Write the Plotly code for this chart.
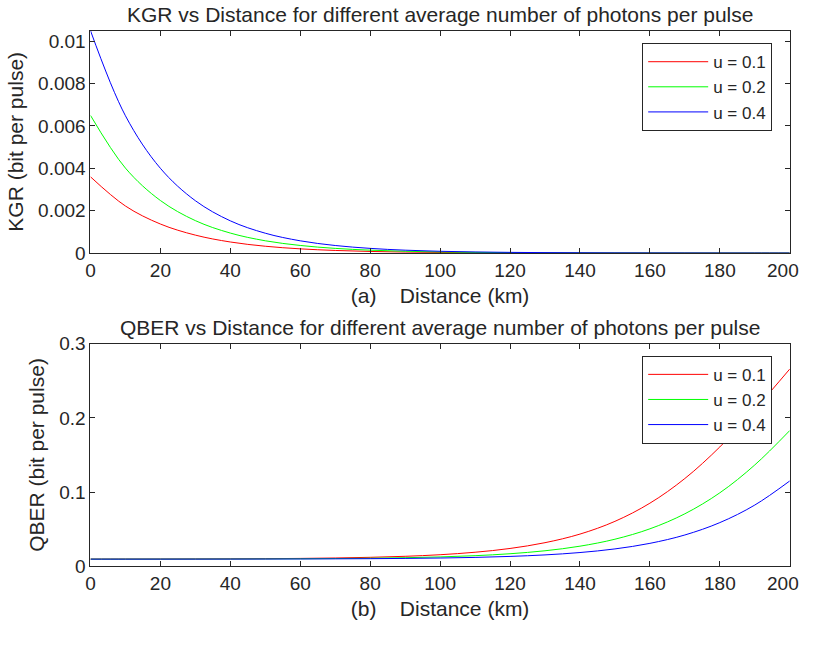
import plotly.graph_objects as go

# ---------------- data ----------------
distance_km = [0, 10, 20, 30, 40, 50, 60, 70, 80, 90, 100,
               110, 120, 130, 140, 150, 160, 170, 180, 190, 200]

kgr_u01 = [0.0036, 0.00222, 0.00137, 0.000846, 0.000522, 0.000321, 0.000198,
           0.000122, 0.0000752, 0.0000464, 0.0000286, 0.0000176, 0.0000109,
           0.0000067, 0.0000041, 0.0000025, 0.0000016, 0.00000097, 0.0000006,
           0.00000037, 0.00000023]
kgr_u02 = [0.0065, 0.00401, 0.00248, 0.00153, 0.000943, 0.000579, 0.000358,
           0.00022, 0.000136, 0.0000839, 0.0000516, 0.0000319, 0.0000196,
           0.0000121, 0.0000075, 0.0000046, 0.0000028, 0.0000017, 0.0000011,
           0.00000066, 0.00000041]
kgr_u04 = [0.0105, 0.00648, 0.0040, 0.00247, 0.00152, 0.000936, 0.000577,
           0.000356, 0.00022, 0.000135, 0.0000834, 0.0000514, 0.0000317,
           0.0000196, 0.0000121, 0.0000074, 0.0000046, 0.0000028, 0.0000017,
           0.0000011, 0.00000066]

qber_u01 = [0.00957, 0.00961, 0.00967, 0.00977, 0.00991, 0.01014, 0.0105,
            0.01106, 0.01195, 0.01332, 0.01546, 0.0188, 0.0239, 0.0317, 0.0433,
            0.0605, 0.0850, 0.1183, 0.1609, 0.2114, 0.2660]
qber_u02 = [0.00953, 0.00955, 0.00958, 0.00963, 0.00971, 0.00982, 0.0100,
            0.0103, 0.01072, 0.01142, 0.0125, 0.01418, 0.0168, 0.0208, 0.0270,
            0.0364, 0.0504, 0.0707, 0.0990, 0.1366, 0.1830]
qber_u04 = [0.00951, 0.00952, 0.00954, 0.00956, 0.0096, 0.00966, 0.00975,
            0.00991, 0.01013, 0.01048, 0.01101, 0.01185, 0.01318, 0.01523, 0.0184,
            0.0233, 0.0308, 0.0421, 0.0588, 0.0825, 0.1150]

series_names = ["u = 0.1", "u = 0.2", "u = 0.4"]
series_colors = ["#ff0000", "#00ff00", "#0000ff"]

x_ticks = [0, 20, 40, 60, 80, 100, 120, 140, 160, 180, 200]
x_ticktext = ["0", "20", "40", "60", "80", "100", "120", "140", "160", "180", "200"]
kgr_ticks = [0, 0.002, 0.004, 0.006, 0.008, 0.01]
kgr_ticktext = ["0", "0.002", "0.004", "0.006", "0.008", "0.01"]
qber_ticks = [0, 0.1, 0.2, 0.3]
qber_ticktext = ["0", "0.1", "0.2", "0.3"]

title_top = "KGR vs Distance for different average number of photons per pulse"
title_bottom = "QBER vs Distance for different average number of photons per pulse"
xlabel_top = "(a)\u00a0\u00a0\u00a0\u00a0Distance (km)"
xlabel_bottom = "(b)\u00a0\u00a0\u00a0\u00a0Distance (km)"
ylabel_top = "KGR (bit per pulse)"
ylabel_bottom = "QBER (bit per pulse)"

# ---------------- figure ----------------
# The page body keeps an 8px margin; anything drawn past the window minus
# that margin makes the whole page get scaled down. So the figure is 16px
# smaller and every reference pixel position is shifted by the 8px margin.
OFF = 8
W, H = 817 - 2 * OFF, 648 - 2 * OFF
FONT = "Liberation Sans, Arial, Helvetica, sans-serif"
AX = "#262626"


def px_x(px):
    return (px - OFF) / W


def px_y(py):
    return 1 - (py - OFF) / H


fig = go.Figure()
for name, color, ys in zip(series_names, series_colors, [kgr_u01, kgr_u02, kgr_u04]):
    fig.add_trace(go.Scatter(x=distance_km, y=ys, mode="lines", name=name,
                             line=dict(color=color, width=1, shape="spline"),
                             xaxis="x", yaxis="y", legend="legend"))
for name, color, ys in zip(series_names, series_colors, [qber_u01, qber_u02, qber_u04]):
    fig.add_trace(go.Scatter(x=distance_km, y=ys, mode="lines", name=name,
                             line=dict(color=color, width=1, shape="spline"),
                             xaxis="x2", yaxis="y2", legend="legend2"))

x_dom = [px_x(94), px_x(797.7)]
top_dom = [px_y(259.4), px_y(29.3)]
bot_dom = [px_y(583.3), px_y(353.3)]

# the last x tick label would stick out past the page edge: it is drawn as an
# annotation at the same data position, nudged just inside the page
edge_label = x_ticktext[-1]
axis_ticktext = x_ticktext[:-1] + [""]


def xaxis(anchor, label):
    return dict(domain=x_dom, anchor=anchor, range=[0, 200], tickvals=x_ticks,
                ticktext=axis_ticktext,
                ticks="inside", ticklen=5, tickcolor=AX, showline=True, linecolor=AX,
                linewidth=1, mirror="ticks", showgrid=False, zeroline=False,
                tickfont=dict(size=19, color=AX, family=FONT),
                title=dict(text=label, font=dict(size=21, color=AX, family=FONT), standoff=8))


def yaxis(anchor, dom, rng, tv, tt, label):
    return dict(domain=dom, anchor=anchor, range=rng, tickvals=tv, ticktext=tt,
                ticks="inside", ticklen=5, tickcolor=AX, showline=True, linecolor=AX,
                linewidth=1, mirror="ticks", showgrid=False, zeroline=False,
                tickfont=dict(size=19, color=AX, family=FONT),
                title=dict(text=label, font=dict(size=21, color=AX, family=FONT), standoff=8))


legend_common = dict(xanchor="right", yanchor="top", x=px_x(780),
                     bgcolor="white", bordercolor=AX, borderwidth=1,
                     font=dict(size=17, color=AX, family=FONT),
                     itemwidth=60, tracegroupgap=0)

annotations = [
    dict(text=title_top, x=(x_dom[0] + x_dom[1]) / 2, y=px_y(27), xref="paper", yref="paper",
         xanchor="center", yanchor="bottom", showarrow=False,
         font=dict(size=21, color=AX, family=FONT)),
    dict(text=title_bottom, x=(x_dom[0] + x_dom[1]) / 2, y=px_y(350), xref="paper", yref="paper",
         xanchor="center", yanchor="bottom", showarrow=False,
         font=dict(size=21, color=AX, family=FONT)),
]
for xref, ypx in (("x", 277.6), ("x2", 601.6)):
    annotations.append(dict(text=edge_label, x=x_ticks[-1], xref=xref, y=px_y(ypx), yref="paper",
                            xanchor="center", yanchor="middle", xshift=-7, showarrow=False,
                            font=dict(size=19, color=AX, family=FONT)))

fig.update_layout(
    width=W, height=H,
    margin=dict(l=0, r=0, t=0, b=0),
    paper_bgcolor="white", plot_bgcolor="white",
    font=dict(family=FONT, color=AX),
    showlegend=True,
    xaxis=xaxis("y", xlabel_top),
    yaxis=yaxis("x", top_dom, [0, 0.0105], kgr_ticks, kgr_ticktext, ylabel_top),
    xaxis2=xaxis("y2", xlabel_bottom),
    yaxis2=yaxis("x2", bot_dom, [0, 0.3], qber_ticks, qber_ticktext, ylabel_bottom),
    legend=dict(y=px_y(42.3), **legend_common),
    legend2=dict(y=px_y(365.7), **legend_common),
    annotations=annotations,
)

fig.write_html("out.html")
